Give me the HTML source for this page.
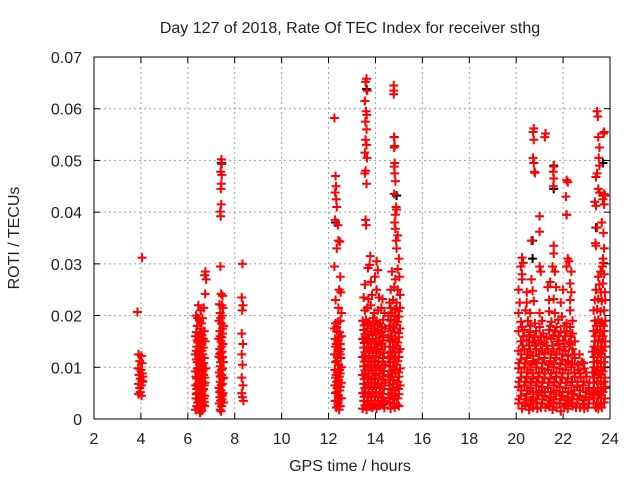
<!DOCTYPE html>
<html><head><meta charset="utf-8"><style>
body{margin:0;background:#fff;}
svg text{font-family:"Liberation Sans",sans-serif;font-size:16px;fill:#222;}
</style></head><body>
<svg id="chart" width="640" height="480" xmlns="http://www.w3.org/2000/svg">
<rect width="640" height="480" fill="#fff"/>
<text x="350" y="33" text-anchor="middle">Day 127 of 2018, Rate Of TEC Index for receiver sthg</text>
<g id="grid"></g>
<g id="marks"></g>
<rect x="94" y="57" width="516" height="362" fill="none" stroke="#000" stroke-width="1"/>
<g id="axes"></g>
<text x="350" y="471" text-anchor="middle">GPS time / hours</text>
<text x="19" y="238" text-anchor="middle" transform="rotate(-90 19 238)">ROTI / TECUs</text>
</svg>
<script>
const xTicks=[2,4,6,8,10,12,14,16,18,20,22,24];
const yTicks=[0,0.01,0.02,0.03,0.04,0.05,0.06,0.07];
const yTickLabels=["0","0.01","0.02","0.03","0.04","0.05","0.06","0.07"];
const pass04=[[3.85,.0207],[4.05,.0312],[3.9,.0125],[4.02,.0122],[3.95,.0112],[4.05,.0108],[3.88,.0098],[4.0,.0095],[3.92,.0085],[4.08,.0082],[3.97,.0078],[4.05,.0074],[3.9,.0068],[4.02,.0065],[3.95,.006],[4.08,.0072],[3.9,.0048],[4.03,.0045],[3.97,.0052],[4.06,.0088]];
const pass06=[[6.75,.0285],[6.72,.0278],[6.78,.027],[6.74,.0242],[6.45,.022],[6.55,.021],[6.68,.0215],[6.35,.02],[6.5,.019],[6.62,.0195],[6.4,.018],[6.58,.0175],[6.7,.017],[6.33,.016],[6.47,.0158],[6.6,.0162],[6.74,.015],[6.38,.014],[6.52,.0142],[6.66,.0138],[6.32,.0125],[6.45,.0128],[6.57,.012],[6.7,.0118],[6.4,.011],[6.5,.0105],[6.62,.0102],[6.76,.0098],[6.33,.0092],[6.46,.009],[6.56,.0088],[6.68,.0085],[6.38,.0078],[6.52,.0075],[6.62,.0072],[6.73,.007],[6.34,.0065],[6.45,.0062],[6.56,.006],[6.67,.0058],[6.4,.005],[6.5,.0052],[6.6,.0048],[6.72,.0045],[6.35,.004],[6.47,.0038],[6.58,.0035],[6.7,.0033],[6.38,.0025],[6.52,.0022],[6.64,.0028],[6.33,.0018],[6.6,.0016],[6.42,.0068],[6.54,.0082],[6.65,.0095],[6.48,.0115],[6.6,.0132],[6.43,.0148],[6.55,.0165]];
const pass06b=[[6.42,.0195],[6.58,.0185],[6.36,.0168],[6.52,.0168],[6.66,.0155],[6.4,.0152],[6.56,.0148],[6.36,.0132],[6.5,.0135],[6.64,.0125],[6.36,.0115],[6.55,.0112],[6.68,.0108],[6.4,.0098],[6.5,.0095],[6.6,.009],[6.72,.008],[6.35,.0082],[6.48,.0072],[6.58,.0068],[6.7,.0065],[6.38,.0058],[6.5,.0058],[6.63,.0055],[6.36,.0048],[6.55,.0045],[6.68,.004],[6.42,.0032],[6.6,.0028],[6.45,.0022],[6.72,.0025],[6.52,.0012]];
const pass07=[[7.43,.0502],[7.45,.0493],[7.4,.0478],[7.45,.0472],[7.43,.0455],[7.41,.0445],[7.42,.0415],[7.38,.0401],[7.4,.0392],[7.39,.0295],[7.42,.0242],[7.48,.0238],[7.35,.0222],[7.45,.022],[7.5,.0215],[7.38,.0205],[7.47,.02],[7.33,.019],[7.43,.0185],[7.52,.018],[7.37,.017],[7.48,.0165],[7.32,.0155],[7.42,.015],[7.5,.0145],[7.36,.0135],[7.46,.013],[7.33,.012],[7.43,.0118],[7.52,.011],[7.38,.0102],[7.48,.0098],[7.34,.009],[7.44,.0085],[7.53,.008],[7.38,.0072],[7.47,.0068],[7.33,.006],[7.42,.0055],[7.5,.005],[7.37,.0042],[7.46,.0038],[7.34,.003],[7.44,.0025],[7.52,.0032],[7.38,.0018],[7.47,.0045],[7.4,.0128],[7.45,.0158]];
const pass07b=[[7.4,.0195],[7.48,.0175],[7.38,.016],[7.45,.014],[7.36,.0125],[7.48,.012],[7.4,.011],[7.43,.0095],[7.38,.0082],[7.48,.0078],[7.42,.0065],[7.36,.0052],[7.45,.0048],[7.4,.0035],[7.42,.0015]];
const pass08=[[8.33,.030],[8.3,.0235],[8.35,.022],[8.32,.021],[8.3,.0165],[8.35,.0145],[8.3,.0125],[8.33,.0105],[8.3,.008],[8.35,.0065],[8.3,.005],[8.33,.0042],[8.37,.0035]];
const pass12=[[12.25,.0582],[12.3,.047],[12.32,.045],[12.28,.0438],[12.33,.0425],[12.35,.041],[12.4,.0375],[12.28,.0385],[12.42,.0345],[12.48,.0343],[12.35,.033],[12.25,.0295],[12.5,.0275],[12.45,.025],[12.52,.0245],[12.3,.023],[12.42,.0215],[12.55,.0205],[12.3,.0185],[12.4,.0188],[12.5,.019],[12.25,.0175],[12.35,.017],[12.47,.0168],[12.55,.016],[12.28,.0155],[12.4,.015],[12.5,.0145],[12.3,.014],[12.45,.013],[12.25,.0125],[12.38,.012],[12.52,.0118],[12.3,.011],[12.43,.0105],[12.55,.01],[12.27,.0095],[12.38,.009],[12.5,.0088],[12.3,.008],[12.42,.0075],[12.55,.007],[12.27,.0065],[12.37,.006],[12.48,.0055],[12.3,.005],[12.42,.0045],[12.55,.004],[12.28,.0035],[12.4,.003],[12.5,.0025],[12.33,.0022],[12.45,.0018],[12.52,.0135]];
const pass12b=[[12.35,.0178],[12.45,.0158],[12.33,.0145],[12.4,.0135],[12.5,.0125],[12.35,.0112],[12.47,.0095],[12.33,.0085],[12.46,.0082],[12.35,.0072],[12.5,.0062],[12.35,.0052],[12.47,.004],[12.35,.0035],[12.42,.0025]];
const pass13=[[13.62,.0658],[13.58,.0652],[13.65,.0635],[13.55,.0615],[13.6,.0595],[13.63,.0588],[13.57,.0575],[13.62,.056],[13.58,.054],[13.62,.053],[13.55,.0515],[13.64,.0505],[13.58,.048],[13.55,.0475],[13.62,.0455],[13.58,.0385],[13.6,.0375],[13.78,.0315],[13.75,.0298],[13.68,.0292],[14.05,.0305],[14.1,.0288],[13.55,.026],[13.8,.0265],[13.98,.0275],[14.05,.025],[13.5,.0235],[13.7,.0232],[13.85,.024],[14.15,.0235],[14.3,.0232],[13.55,.021],[13.65,.0215],[13.8,.022],[13.95,.0205],[14.1,.021],[14.25,.0215],[14.38,.0205],[13.45,.019],[13.6,.0192],[13.75,.0188],[13.9,.0195],[14.05,.019],[14.2,.0185],[14.33,.0192],[13.5,.0172],[13.65,.0175],[13.8,.017],[13.95,.0175],[14.1,.0172],[14.25,.0168],[14.4,.0175],[13.45,.0155],[13.58,.0158],[13.72,.0152],[13.88,.0155],[14.02,.015],[14.17,.0158],[14.32,.0152],[13.5,.0138],[13.65,.014],[13.8,.0135],[13.95,.0138],[14.1,.0142],[14.25,.0135],[14.4,.014],[13.45,.012],[13.58,.0122],[13.72,.0118],[13.88,.0122],[14.02,.012],[14.17,.0125],[14.32,.0118],[13.5,.0102],[13.65,.0105],[13.8,.01],[13.95,.0105],[14.1,.0102],[14.25,.0098],[14.4,.0105],[13.45,.0085],[13.58,.0088],[13.72,.0082],[13.88,.0088],[14.02,.0085],[14.17,.0088],[14.32,.0082],[13.5,.0068],[13.65,.007],[13.8,.0065],[13.95,.007],[14.1,.0068],[14.25,.0065],[14.4,.007],[13.45,.005],[13.58,.0052],[13.72,.0048],[13.88,.0052],[14.02,.005],[14.17,.0052],[14.32,.0048],[13.5,.0035],[13.65,.0032],[13.8,.0035],[13.95,.003],[14.1,.0035],[14.25,.0032],[14.4,.0035],[13.45,.002],[13.62,.0018],[13.85,.0022],[14.05,.002],[14.38,.0022]];
const pass13b=[[13.52,.0181],[13.68,.0182],[13.82,.0180],[13.97,.0184],[14.12,.0181],[14.28,.0178],[13.55,.0164],[13.7,.0163],[13.86,.0162],[14.02,.0165],[14.18,.0163],[14.35,.0162],[13.52,.0147],[13.68,.0148],[13.83,.0146],[13.98,.0147],[14.13,.0148],[14.28,.0145],[13.55,.0129],[13.72,.0130],[13.87,.0128],[14.03,.0131],[14.2,.0129],[14.36,.0128],[13.52,.0111],[13.68,.0112],[13.83,.0110],[13.98,.0112],[14.13,.0111],[14.3,.0110],[13.55,.0094],[13.7,.0095],[13.86,.0093],[14.02,.0094],[14.18,.0095],[14.36,.0093],[13.52,.0077],[13.68,.0078],[13.83,.0076],[13.98,.0078],[14.13,.0077],[14.3,.0076],[13.55,.0060],[13.7,.0060],[13.86,.0058],[14.02,.0061],[14.2,.0060],[14.36,.0058],[13.52,.0043],[13.68,.0042],[13.83,.0044],[13.98,.0042],[14.13,.0043],[14.3,.0041],[13.55,.0026],[13.75,.0027],[13.92,.0025],[14.15,.0026],[14.32,.0027]];
const pass14=[[14.78,.0645],[14.78,.0635],[14.78,.0628],[14.8,.0545],[14.82,.0528],[14.8,.0525],[14.82,.0495],[14.8,.0488],[14.82,.0475],[14.85,.046],[14.8,.0435],[14.88,.041],[14.9,.0405],[14.85,.0395],[14.82,.038],[14.85,.0368],[14.95,.0355],[14.88,.0345],[14.9,.033],[15.0,.031],[14.95,.029],[14.7,.0285],[14.85,.027],[15.02,.0275],[14.65,.025],[14.8,.0255],[14.95,.025],[15.05,.024],[14.6,.0225],[14.75,.023],[14.9,.0225],[15.05,.0215],[14.55,.02],[14.7,.0205],[14.85,.02],[15.0,.0198],[14.6,.018],[14.75,.0178],[14.9,.0182],[15.05,.0175],[14.55,.0158],[14.7,.016],[14.85,.0155],[15.0,.0158],[14.6,.014],[14.75,.0138],[14.9,.0142],[15.05,.0135],[14.55,.012],[14.7,.0122],[14.85,.0118],[15.0,.012],[14.6,.0102],[14.75,.01],[14.9,.0105],[15.05,.0098],[14.55,.0085],[14.7,.0082],[14.85,.0088],[15.0,.0082],[14.6,.0065],[14.75,.0068],[14.9,.0062],[15.05,.0065],[14.55,.0048],[14.7,.005],[14.85,.0045],[15.0,.0048],[14.6,.0032],[14.75,.003],[14.92,.0028],[14.65,.002],[15.0,.0025]];
const pass14b=[[14.65,.0215],[14.82,.0212],[14.98,.0208],[14.65,.019],[14.8,.0192],[14.95,.0188],[14.65,.017],[14.82,.0168],[14.98,.0166],[14.62,.015],[14.78,.0148],[14.95,.0148],[14.65,.013],[14.82,.0128],[14.98,.013],[14.62,.011],[14.78,.011],[14.95,.0112],[14.65,.0092],[14.82,.0095],[14.98,.009],[14.62,.0075],[14.78,.0075],[14.95,.0072],[14.65,.0058],[14.82,.0055],[14.98,.0058],[14.62,.004],[14.8,.0038],[14.95,.004],[14.82,.0022]];
const pass20=[[20.75,.0562],[20.72,.0555],[20.75,.054],[21.25,.0552],[21.22,.0545],[20.72,.0505],[20.75,.0495],[20.78,.0478],[20.8,.0476],[21.6,.0488],[21.58,.0478],[21.6,.0465],[21.58,.045],[22.15,.0462],[22.2,.0458],[22.12,.043],[22.15,.0395],[21.0,.0392],[21.0,.0362],[20.65,.0345],[21.6,.0335],[21.6,.032],[22.2,.031],[22.25,.0305],[22.15,.0295],[20.25,.0312],[20.3,.0302],[20.2,.0295],[20.25,.028],[21.0,.0295],[21.05,.0285],[21.55,.0295],[21.65,.0285],[22.35,.0285],[20.25,.027],[20.65,.027],[21.45,.0265],[22.3,.0262],[20.1,.025],[20.45,.0245],[20.7,.0248],[21.35,.0255],[21.7,.0255],[22.0,.025],[22.35,.0245],[20.15,.0225],[20.45,.0225],[20.75,.0228],[21.4,.023],[21.6,.0232],[21.9,.0225],[22.3,.023],[20.1,.0205],[20.4,.021],[20.6,.0205],[21.0,.0205],[21.4,.0208],[21.65,.0205],[21.95,.0198],[22.3,.021],[20.2,.0188],[20.5,.019],[20.8,.0185],[21.1,.019],[21.5,.0188],[21.8,.0192],[22.15,.0185],[22.4,.019],[20.1,.017],[20.35,.0172],[20.6,.0168],[20.85,.017],[21.15,.0165],[21.4,.0172],[21.65,.017],[21.9,.0168],[22.15,.017],[22.4,.0165],[20.2,.015],[20.45,.0152],[20.7,.0148],[20.95,.0152],[21.2,.0148],[21.5,.0155],[21.75,.015],[22.0,.0152],[22.25,.0148],[22.5,.015],[20.1,.0132],[20.35,.0135],[20.6,.013],[20.85,.0135],[21.1,.0132],[21.35,.0135],[21.6,.013],[21.85,.0135],[22.1,.0132],[22.4,.0135],[22.7,.0125],[20.2,.0115],[20.45,.0118],[20.7,.0112],[20.95,.0115],[21.2,.0118],[21.45,.0112],[21.7,.0118],[21.95,.0115],[22.2,.0112],[22.5,.0118],[22.8,.011],[20.1,.0098],[20.35,.01],[20.6,.0095],[20.85,.01],[21.1,.0098],[21.35,.0095],[21.6,.01],[21.85,.0098],[22.1,.0095],[22.35,.01],[22.65,.0095],[22.9,.0098],[20.2,.008],[20.45,.0082],[20.7,.0078],[20.95,.0082],[21.2,.008],[21.45,.0078],[21.7,.0082],[21.95,.008],[22.2,.0078],[22.5,.0082],[22.75,.008],[23.0,.0082],[20.1,.0062],[20.35,.0065],[20.6,.006],[20.85,.0065],[21.1,.0062],[21.35,.006],[21.6,.0065],[21.85,.0062],[22.1,.006],[22.35,.0065],[22.6,.0062],[22.85,.0065],[23.1,.006],[20.2,.0045],[20.45,.0048],[20.7,.0042],[20.95,.0048],[21.2,.0045],[21.45,.0042],[21.7,.0048],[21.95,.0045],[22.2,.0042],[22.45,.0048],[22.7,.0045],[22.95,.0042],[23.15,.0048],[20.1,.003],[20.35,.0032],[20.6,.0028],[20.85,.0032],[21.1,.003],[21.35,.0028],[21.6,.0032],[21.85,.003],[22.1,.0028],[22.35,.0032],[22.6,.003],[22.85,.0028],[23.1,.003],[20.25,.002],[20.55,.0018],[20.9,.002],[21.25,.0022],[21.55,.0018],[21.9,.0015],[22.2,.002],[22.55,.0022],[22.9,.002]];
const pass20b=[[20.22,.0125],[20.48,.0125],[20.72,.0122],[20.98,.0125],[21.22,.0128],[21.48,.0125],[21.72,.0125],[21.98,.0125],[22.22,.0122],[22.48,.0125],[20.12,.0108],[20.38,.0108],[20.62,.0105],[20.88,.0108],[21.12,.0108],[21.38,.0105],[21.62,.0108],[21.88,.0106],[22.12,.0105],[22.38,.0108],[22.62,.0105],[22.88,.0108],[20.22,.009],[20.48,.009],[20.72,.0088],[20.98,.009],[21.22,.0088],[21.48,.0088],[21.72,.009],[21.98,.0088],[22.22,.0088],[22.48,.009],[22.72,.0088],[22.98,.009],[20.12,.0072],[20.38,.0072],[20.62,.007],[20.88,.0072],[21.12,.007],[21.38,.007],[21.62,.0072],[21.88,.007],[22.12,.007],[22.38,.0072],[22.62,.0072],[22.88,.0072],[23.12,.007],[20.22,.0055],[20.48,.0055],[20.72,.0052],[20.98,.0055],[21.22,.0052],[21.48,.0052],[21.72,.0055],[21.98,.0052],[22.22,.0052],[22.48,.0055],[22.72,.0055],[22.98,.0052],[23.12,.0055],[20.12,.0038],[20.38,.0038],[20.62,.0036],[20.88,.0038],[21.12,.0038],[21.38,.0036],[21.62,.0038],[21.88,.0038],[22.12,.0036],[22.38,.0038],[22.62,.0038],[22.88,.0036],[23.12,.0038],[20.4,.0025],[20.72,.0022],[21.05,.0022],[21.42,.0025],[21.72,.0022],[22.05,.0024],[22.4,.0025],[22.72,.0022],[23.05,.0022],[20.28,.0142],[20.55,.0142],[20.8,.0142],[21.05,.0145],[21.3,.0142],[21.55,.0142],[21.8,.0145],[22.05,.014],[22.3,.0145],[20.3,.016],[20.55,.0162],[20.78,.0158],[21.05,.016],[21.3,.0158],[21.58,.0162],[21.82,.016],[22.08,.016],[22.33,.016],[20.25,.0178],[20.6,.018],[21.0,.0178],[21.45,.018],[21.72,.0178],[22.05,.018],[22.3,.0178]];
const pass23=[[23.45,.0595],[23.48,.0585],[23.75,.0555],[23.72,.0552],[23.5,.0545],[23.55,.0525],[23.52,.0505],[23.55,.049],[23.45,.0475],[23.4,.0468],[23.5,.0445],[23.55,.0438],[23.75,.0435],[23.78,.0432],[23.35,.042],[23.4,.0412],[23.7,.0425],[23.75,.0415],[23.65,.038],[23.45,.037],[23.38,.034],[23.4,.0335],[23.72,.036],[23.75,.033],[23.7,.031],[23.72,.0302],[23.68,.0295],[23.5,.0275],[23.6,.0285],[23.75,.028],[23.55,.026],[23.7,.0262],[23.4,.025],[23.62,.0245],[23.78,.0245],[23.35,.023],[23.5,.0232],[23.65,.0228],[23.8,.023],[23.3,.021],[23.45,.0212],[23.6,.0208],[23.75,.021],[23.35,.019],[23.5,.0192],[23.65,.0188],[23.8,.019],[23.3,.017],[23.45,.0172],[23.6,.0168],[23.75,.017],[23.35,.015],[23.5,.0152],[23.65,.0148],[23.8,.015],[23.25,.013],[23.4,.0132],[23.55,.0128],[23.7,.0132],[23.3,.011],[23.45,.0112],[23.6,.0108],[23.75,.011],[23.25,.009],[23.4,.0092],[23.55,.0088],[23.7,.0092],[23.3,.007],[23.45,.0072],[23.6,.0068],[23.75,.0072],[23.25,.005],[23.4,.0052],[23.55,.0048],[23.7,.0052],[23.3,.003],[23.45,.0032],[23.6,.0028],[23.75,.0032],[23.5,.002],[23.8,.0062]];
const pass23b=[[23.42,.018],[23.58,.018],[23.72,.018],[23.38,.016],[23.55,.016],[23.7,.016],[23.32,.014],[23.48,.014],[23.62,.014],[23.78,.014],[23.32,.012],[23.48,.012],[23.62,.012],[23.78,.012],[23.32,.01],[23.48,.01],[23.62,.01],[23.78,.01],[23.32,.008],[23.48,.008],[23.62,.008],[23.78,.008],[23.32,.006],[23.48,.006],[23.62,.006],[23.78,.006],[23.32,.004],[23.48,.004],[23.62,.004],[23.78,.004],[23.4,.0022],[23.65,.0022]];
const blackPoints=[[13.62,.0638],[14.8,.0545],[21.6,.049],[21.6,.0445],[22.15,.0395],[12.3,.038],[14.9,.0432],[20.7,.0345],[23.4,.037],[23.7,.0495],[7.43,.0495],[14.35,.003],[20.7,.031]];

const X0=94,X1=610,Y0=419,Y1=57;
const xs=v=>X0+(v-2)/(24-2)*(X1-X0);
const ys=v=>Y0-(v/0.07)*(Y0-Y1);
const NS="http://www.w3.org/2000/svg";
const grid=document.getElementById('grid'),axes=document.getElementById('axes'),marks=document.getElementById('marks');
function mk(tag,attrs,parent){const e=document.createElementNS(NS,tag);for(const k in attrs)e.setAttribute(k,attrs[k]);parent.appendChild(e);return e;}
xTicks.forEach(t=>{const x=xs(t);
 if(t>2&&t<24){const g=mk('line',{x1:x,x2:x,y1:Y1,y2:Y0,stroke:'#a0a0a0','stroke-dasharray':'2,3'},grid);
 
 }
 mk('line',{x1:x,x2:x,y1:Y0,y2:Y0-6,stroke:'#000'},axes);
 mk('line',{x1:x,x2:x,y1:Y1,y2:Y1+6,stroke:'#000'},axes);
 const tx=mk('text',{x:x,y:444,'text-anchor':'middle'},axes);tx.textContent=t;
 
 
});
yTicks.forEach((t,i)=>{const y=ys(t);
 if(t>0&&t<0.07){const g=mk('line',{x1:X0,x2:X1,y1:y,y2:y,stroke:'#a0a0a0','stroke-dasharray':'2,3'},grid);
 
 }
 mk('line',{x1:X0,x2:X0+6,y1:y,y2:y,stroke:'#000'},axes);
 mk('line',{x1:X1,x2:X1-6,y1:y,y2:y,stroke:'#000'},axes);
 const tx=mk('text',{x:82,y:y+6,'text-anchor':'end'},axes);tx.textContent=yTickLabels[i];
 
 
});
function plus(p,color,name){const x=xs(p[0]),y=ys(p[1]);
 const e=mk('path',{d:`M${x-4.5},${y}h9M${x},${y-4.5}v9`,stroke:color,'stroke-width':2,fill:'none'},marks);
 
 }
blackPoints.forEach(p=>plus(p,'#000','roti-point-black'));
[pass04,pass06,pass06b,pass07,pass07b,pass08,pass12,pass12b,pass13,pass13b,pass14,pass14b,pass20,pass20b,pass23,pass23b].forEach(arr=>arr.forEach(p=>plus(p,'#ff0000','roti-point')));
</script>
</body></html>
